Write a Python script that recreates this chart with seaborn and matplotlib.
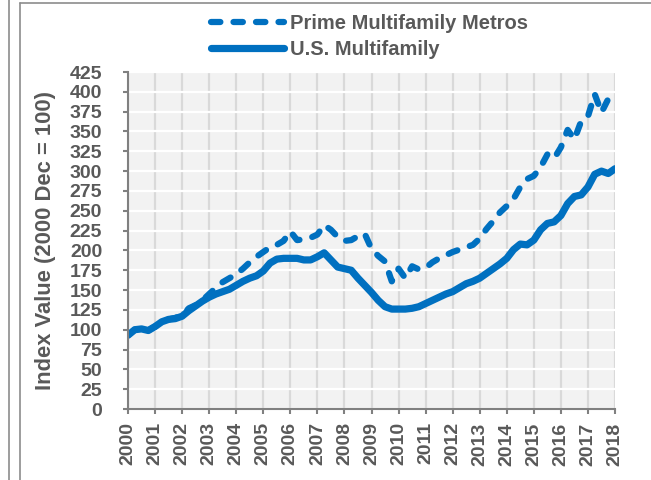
import numpy as np
import pandas as pd
import matplotlib
matplotlib.use("Agg")
import matplotlib.pyplot as plt
from matplotlib.lines import Line2D
import seaborn as sns


# Quarterly index values, 2000 Q1 .. 2018 Q1 (2000 Dec = 100)
quarters = [2000 + q / 4 for q in range(73)]

us_multifamily = [
    93, 100, 101, 99, 104, 110, 113, 114, 117, 124, 130, 136,
    141, 145, 148, 151, 156, 161, 165, 168, 174, 184, 189, 190,
    190, 190, 188, 188, 192, 197, 188, 179, 177, 175, 165, 156,
    147, 137, 129, 126, 126, 126, 127, 129, 133, 137, 141, 145,
    148, 153, 158, 161, 165, 171, 177, 183, 190, 201, 208, 207,
    213, 226, 234, 236, 244, 259, 268, 270, 280, 296, 300, 297,
    303,
]

prime_metros = [
    93, 100, 101, 99, 104, 110, 113, 115, 118, 127, 131, 137,
    145, 153, 160, 165, 170, 177, 185, 192, 198, 204, 207, 212,
    224, 213, 214, 216, 220, 232, 226, 217, 212, 213, 218, 221,
    202, 193, 186, 161, 177, 165, 180, 176, 178, 185, 190, 194,
    198, 201, 204, 207, 215, 227, 237, 248, 256, 265, 280, 290,
    294, 305, 321, 316, 330, 352, 340, 363, 369, 397, 374, 391,
    384,
]

series_names = ["Prime Multifamily Metros", "U.S. Multifamily"]
year_ticks = list(range(2000, 2019))
value_ticks = list(range(0, 426, 25))

df = pd.DataFrame({
    "quarter": quarters,
    "us": us_multifamily,
    "prime": prime_metros,
})

blue = "#0070C0"
gray_text = "#595959"
dash_pat = (0, (1.5, 2.1))

# Style (rc set after set_theme so it sticks)
sns.set_theme(style="ticks")
plt.rcParams["font.family"] = ["Liberation Sans", "DejaVu Sans"]
plt.rcParams["font.weight"] = "bold"
plt.rcParams.update({
    "xtick.labelsize": 14,
    "ytick.labelsize": 14,
    "xtick.color": "#808080",
    "ytick.color": "#808080",
    "xtick.labelcolor": gray_text,
    "ytick.labelcolor": gray_text,
    "xtick.major.size": 3.6,
    "ytick.major.size": 3.6,
    "xtick.major.width": 1.5,
    "ytick.major.width": 1.5,
    "xtick.major.pad": 6,
    "ytick.major.pad": 15,
    "xtick.direction": "out",
    "ytick.direction": "out",
})

fig = plt.figure(figsize=(6.51, 4.8), dpi=100)
ax = fig.add_axes([128 / 651, 1 - 409 / 480, (615 - 128) / 651, (409 - 72) / 480])
ax.set_facecolor("#F2F2F2")

# Grid: grey verticals, white horizontals
ax.set_axisbelow(True)
ax.xaxis.grid(True, color="#D9D9D9", linewidth=1.6)
ax.yaxis.grid(True, color="white", linewidth=1.6)

sns.lineplot(data=df, x="quarter", y="prime", ax=ax, color=blue,
             linewidth=4.5, linestyle=dash_pat, dash_capstyle="round")
sns.lineplot(data=df, x="quarter", y="us", ax=ax, color=blue,
             linewidth=5.2, solid_capstyle="round", solid_joinstyle="round")

ax.set_xlim(2000, 2018)
ax.set_ylim(0, 425)
ax.set_xticks(year_ticks)
ax.set_xticklabels([str(y) for y in year_ticks], rotation=90)
ax.set_yticks(value_ticks)
ax.set_yticklabels([str(v) for v in value_ticks])

for side in ["top", "right"]:
    ax.spines[side].set_visible(False)
for side in ["left", "bottom"]:
    ax.spines[side].set_color("#808080")
    ax.spines[side].set_linewidth(1.5)

ax.set_xlabel("")
ax.set_ylabel("Index Value (2000 Dec = 100)", fontsize=15.8,
              fontweight="bold", color=gray_text)
ax.yaxis.set_label_coords(-0.148, 0.5)

# Legend
handles = [
    Line2D([], [], color=blue, linewidth=4.5, linestyle=dash_pat,
           dash_capstyle="round"),
    Line2D([], [], color=blue, linewidth=5.2, solid_capstyle="round"),
]
leg = fig.legend(handles, series_names, loc="upper left",
                 bbox_to_anchor=(211 / 651, 1 - 14 / 480), frameon=False,
                 borderpad=0, borderaxespad=0, handlelength=3.6,
                 handletextpad=0.3, labelspacing=0.34,
                 prop={"size": 14.5, "weight": "bold"})
for t in leg.get_texts():
    t.set_color(gray_text)

# Screenshot frame lines
frame_kw = dict(color="#8C8C8C", linewidth=1.2, transform=fig.transFigure)
fig.add_artist(Line2D([9 / 651, 9 / 651], [0, 1], **frame_kw))
fig.add_artist(Line2D([20 / 651, 20 / 651], [0, 1 - 3 / 480], **frame_kw))
fig.add_artist(Line2D([20 / 651, 1], [1 - 3 / 480, 1 - 3 / 480], **frame_kw))

fig.savefig("out.png", dpi=100)
plt.close(fig)
